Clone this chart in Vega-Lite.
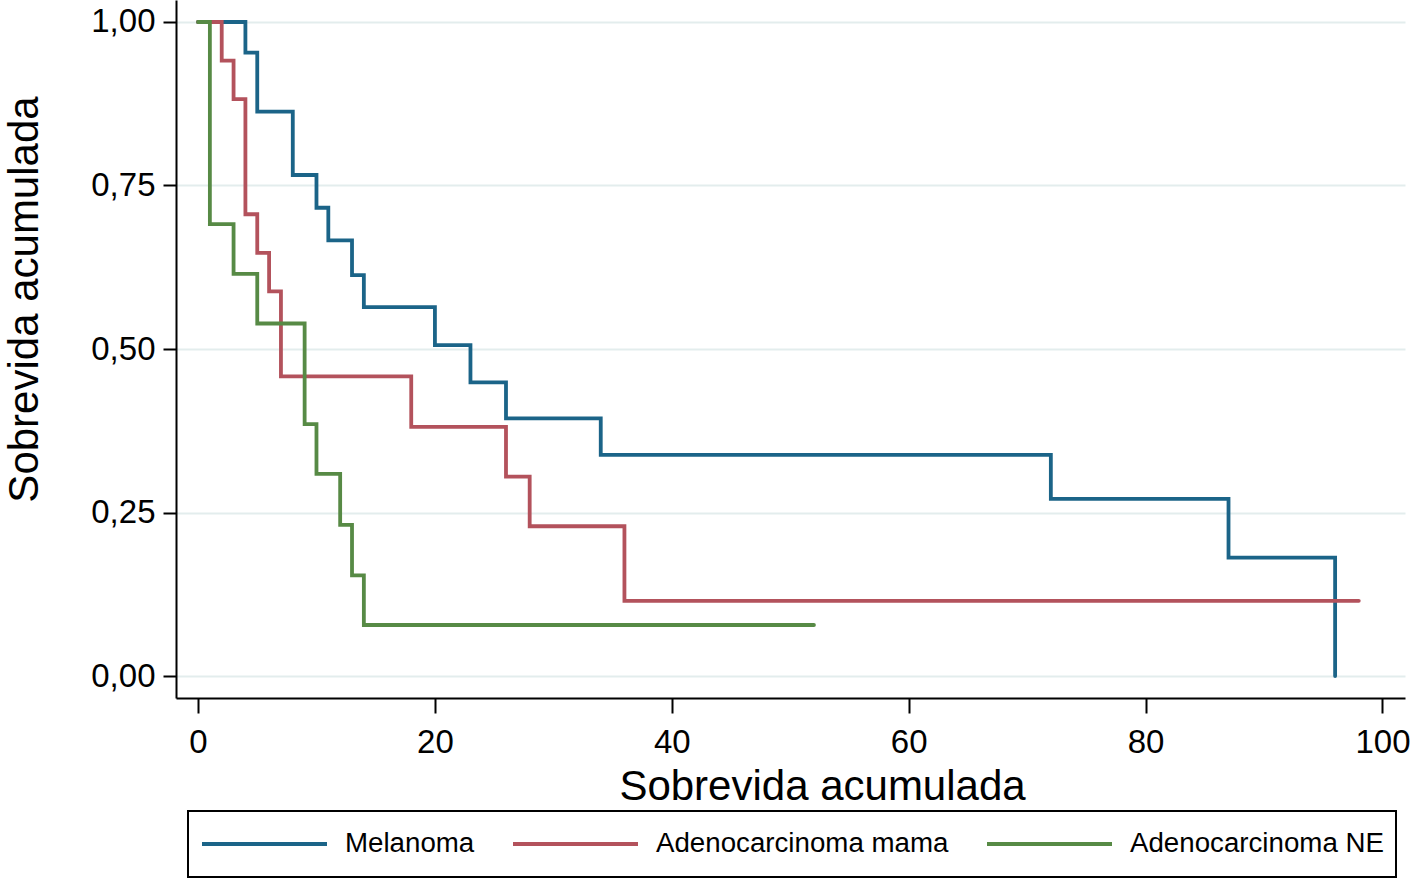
{
  "$schema": "https://vega.github.io/schema/vega-lite/v6.json",
  "width": 1229,
  "height": 698,
  "autosize": {"type": "none"},
  "padding": {"left": 176, "top": 0, "right": 7, "bottom": 180},
  "background": "white",
  "config": {
    "view": {"stroke": null},
    "font": "Liberation Sans",
    "axis": {
      "domainColor": "black",
      "domainWidth": 2,
      "tickColor": "black",
      "tickWidth": 2,
      "labelColor": "black",
      "titleColor": "black",
      "labelFont": "Liberation Sans",
      "titleFont": "Liberation Sans",
      "titleFontWeight": "normal"
    },
    "legend": {
      "labelFont": "Liberation Sans",
      "strokeWidth": 2
    }
  },
  "data": {
    "values": [
      {"grupo": "Melanoma", "t": 0, "s": 1},
      {"grupo": "Melanoma", "t": 4, "s": 0.953},
      {"grupo": "Melanoma", "t": 5, "s": 0.863},
      {"grupo": "Melanoma", "t": 8, "s": 0.766},
      {"grupo": "Melanoma", "t": 10, "s": 0.716},
      {"grupo": "Melanoma", "t": 11, "s": 0.666},
      {"grupo": "Melanoma", "t": 13, "s": 0.613},
      {"grupo": "Melanoma", "t": 14, "s": 0.564},
      {"grupo": "Melanoma", "t": 20, "s": 0.506},
      {"grupo": "Melanoma", "t": 23, "s": 0.449},
      {"grupo": "Melanoma", "t": 26, "s": 0.394},
      {"grupo": "Melanoma", "t": 34, "s": 0.338},
      {"grupo": "Melanoma", "t": 72, "s": 0.271},
      {"grupo": "Melanoma", "t": 87, "s": 0.181},
      {"grupo": "Melanoma", "t": 96, "s": 0},
      {"grupo": "Adenocarcinoma mama", "t": 0, "s": 1},
      {"grupo": "Adenocarcinoma mama", "t": 2, "s": 0.941},
      {"grupo": "Adenocarcinoma mama", "t": 3, "s": 0.882},
      {"grupo": "Adenocarcinoma mama", "t": 4, "s": 0.706},
      {"grupo": "Adenocarcinoma mama", "t": 5, "s": 0.647},
      {"grupo": "Adenocarcinoma mama", "t": 6, "s": 0.588},
      {"grupo": "Adenocarcinoma mama", "t": 7, "s": 0.458},
      {"grupo": "Adenocarcinoma mama", "t": 18, "s": 0.381},
      {"grupo": "Adenocarcinoma mama", "t": 26, "s": 0.305},
      {"grupo": "Adenocarcinoma mama", "t": 28, "s": 0.229},
      {"grupo": "Adenocarcinoma mama", "t": 36, "s": 0.115},
      {"grupo": "Adenocarcinoma mama", "t": 98, "s": 0.115},
      {"grupo": "Adenocarcinoma NE", "t": 0, "s": 1},
      {"grupo": "Adenocarcinoma NE", "t": 1, "s": 0.691},
      {"grupo": "Adenocarcinoma NE", "t": 3, "s": 0.615},
      {"grupo": "Adenocarcinoma NE", "t": 5, "s": 0.539},
      {"grupo": "Adenocarcinoma NE", "t": 9, "s": 0.385},
      {"grupo": "Adenocarcinoma NE", "t": 10, "s": 0.309},
      {"grupo": "Adenocarcinoma NE", "t": 12, "s": 0.231},
      {"grupo": "Adenocarcinoma NE", "t": 13, "s": 0.154},
      {"grupo": "Adenocarcinoma NE", "t": 14, "s": 0.078},
      {"grupo": "Adenocarcinoma NE", "t": 52, "s": 0.078}
    ]
  },
  "mark": {"type": "line", "interpolate": "step-after", "strokeWidth": 3.8, "strokeCap": "round"},
  "encoding": {
    "x": {
      "field": "t",
      "type": "quantitative",
      "scale": {"domain": [-1.86, 101.9], "nice": false, "zero": false},
      "axis": {
        "title": "Sobrevida acumulada",
        "values": [0, 20, 40, 60, 80, 100],
        "grid": false,
        "tickSize": 15,
        "labelFontSize": 33,
        "labelBaseline": "alphabetic",
        "labelPadding": 39,
        "labelFlush": false,
        "titleFontSize": 42,
        "titleX": 646,
        "titleY": 101,
        "titleBaseline": "alphabetic",
        "titleAlign": "center"
      }
    },
    "y": {
      "field": "s",
      "type": "quantitative",
      "scale": {"domain": [-0.0336, 1.0336], "nice": false, "zero": false},
      "axis": {
        "title": "Sobrevida acumulada",
        "values": [0, 0.25, 0.5, 0.75, 1],
        "labelExpr": "replace(format(datum.value, '.2f'), '.', ',')",
        "grid": true,
        "gridColor": "#e3eded",
        "gridWidth": 2,
        "tickSize": 13,
        "labelFontSize": 33,
        "labelPadding": 8,
        "labelFlush": false,
        "titleFontSize": 42,
        "titleAngle": -90,
        "titleX": -139,
        "titleY": 299,
        "titleBaseline": "alphabetic",
        "titleAlign": "center"
      }
    },
    "color": {
      "field": "grupo",
      "type": "nominal",
      "sort": ["Melanoma", "Adenocarcinoma mama", "Adenocarcinoma NE"],
      "scale": {
        "domain": ["Melanoma", "Adenocarcinoma mama", "Adenocarcinoma NE"],
        "range": ["#1b6488", "#b3525c", "#578a45"]
      },
      "legend": {
        "title": null,
        "orient": "none",
        "direction": "horizontal",
        "legendX": 12,
        "legendY": 811,
        "symbolType": "stroke",
        "symbolSize": 15625,
        "symbolStrokeWidth": 4,
        "clipHeight": 42,
        "labelOffset": 16,
        "labelFontSize": 27.7,
        "labelLimit": 500,
        "labelColor": "black",
        "columnPadding": 36,
        "padding": 12,
        "strokeColor": "black",
        "fillColor": "white"
      }
    }
  }
}
